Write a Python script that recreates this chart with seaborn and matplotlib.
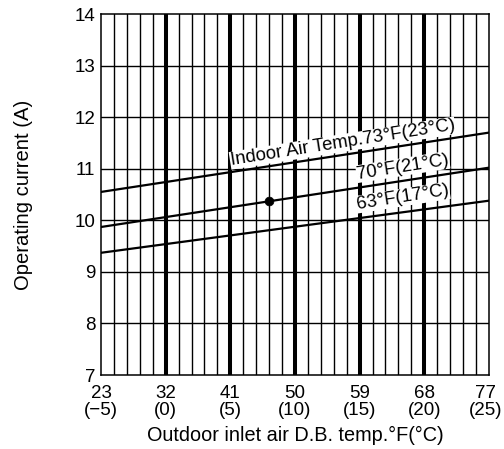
import numpy as np
import pandas as pd
import seaborn as sns
import matplotlib
matplotlib.use("Agg")
from matplotlib import pyplot as plt
from matplotlib.transforms import ScaledTranslation

# outdoor temp (F) at the chart ends, and current (A) for each indoor temp curve
outdoor_f = [23, 77]
curve_names = ["73", "70", "63"]
current_73 = [10.55, 11.70]
current_70 = [9.87, 11.02]
current_63 = [9.37, 10.38]

# rated point
point_f = [46.4]
point_a = [10.37]

xtick_f = [23, 32, 41, 50, 59, 68, 77]
xtick_c = ["\u22125", "0", "5", "10", "15", "20", "25"]
yticks = [7, 8, 9, 10, 11, 12, 13, 14]

sns.set_style("white")
plt.rcParams['font.family'] = ['Liberation Sans', 'DejaVu Sans']
plt.rcParams['text.color'] = 'black'
plt.rcParams['axes.labelcolor'] = 'black'
plt.rcParams['xtick.color'] = 'black'
plt.rcParams['ytick.color'] = 'black'

df = pd.DataFrame({
    "outdoor": outdoor_f * 3,
    "current": current_73 + current_70 + current_63,
    "curve": sum([[n] * 2 for n in curve_names], []),
})

fig = plt.figure(figsize=(5.04, 4.49), dpi=100)
ax = fig.add_axes([0.2004, 0.1648, 0.7696, 0.804])

# grid: one line per degree C, bold every 5 C
for c in range(-4, 25):
    f = 32 + c * 1.8
    lw = 2.9 if c % 5 == 0 else 1.0
    ax.axvline(f, color="black", lw=lw, zorder=1)
for y in yticks[1:-1]:
    ax.axhline(y, color="black", lw=1.0, zorder=1)

sns.lineplot(data=df, x="outdoor", y="current", units="curve", estimator=None,
             color="black", lw=1.6, ax=ax, zorder=3, legend=False)
sns.scatterplot(x=point_f, y=point_a, color="black", s=40, ax=ax, zorder=4,
                edgecolor="black", legend=False)

box = dict(facecolor="white", edgecolor="none", pad=0.3)
fs_lab = 13.3
ax.text(41.2, 10.99, "Indoor Air Temp.73\u00b0F(23\u00b0C)", rotation=9,
        fontsize=fs_lab, ha="left", va="bottom", bbox=box, zorder=5,
        rotation_mode="anchor")
ax.text(58.8, 10.73, "70\u00b0F(21\u00b0C)", rotation=9, fontsize=fs_lab,
        ha="left", va="bottom", bbox=box, zorder=5, rotation_mode="anchor")
ax.text(58.8, 10.14, "63\u00b0F(17\u00b0C)", rotation=9, fontsize=fs_lab,
        ha="left", va="bottom", bbox=box, zorder=5, rotation_mode="anchor")

fs = 13.5
ax.set_xlim(23, 77)
ax.set_ylim(7, 14)
ax.set_xticks(xtick_f)
ax.set_xticklabels([f"{f}\n({c})" for f, c in zip(xtick_f, xtick_c)],
                   fontsize=fs, linespacing=1.0)
ax.set_yticks(yticks)
ax.set_yticklabels([str(y) for y in yticks], fontsize=fs)
ax.tick_params(axis="x", length=0, pad=7)
ax.tick_params(axis="y", length=0, pad=4)
# last label sits at the figure edge, nudge it in a little
last = ax.get_xticklabels()[-1]
last.set_transform(last.get_transform() + ScaledTranslation(-3 / 100, 0, fig.dpi_scale_trans))
ax.set_xlabel("Outdoor inlet air D.B. temp.\u00b0F(\u00b0C)", fontsize=14.3, labelpad=5)
ax.set_ylabel("Operating current (A)", fontsize=14.6, labelpad=30)
for s in ax.spines.values():
    s.set_color("black")
    s.set_linewidth(1.1)

fig.savefig("out.png", dpi=100)
